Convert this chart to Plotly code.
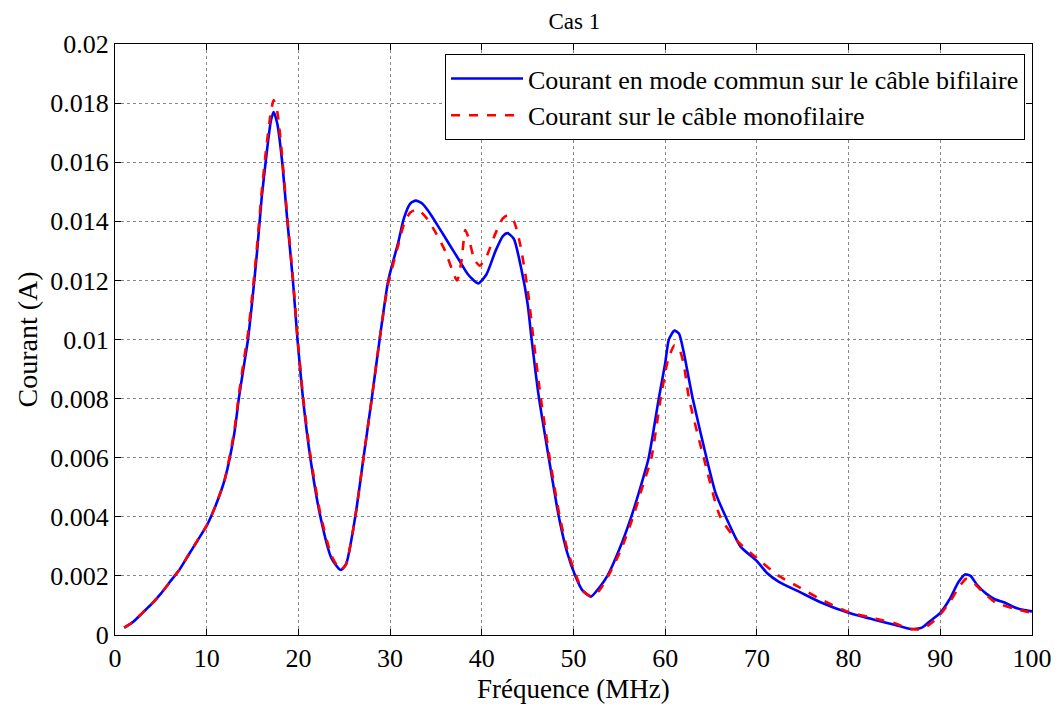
import plotly.graph_objects as go

# Blue: Courant en mode commun sur le câble bifilaire
freq_bi = [1.0, 2, 3, 4, 5, 6, 7, 8, 9, 10, 11, 12, 13, 13.5, 14, 14.5, 15, 15.5, 16, 16.5, 17, 17.3, 17.7,
           18.2, 18.8, 19.4, 19.9, 20.5, 21.3, 22.4, 23.6, 24.6, 25.2, 26.2, 27.1, 28.0, 28.9, 29.8, 30.9,
           31.5, 32.2, 32.8, 33.5, 34.5, 35.5, 36.5, 37.5, 38.5, 39.6, 40.5, 41.5, 42.3, 42.8, 43.5, 44.3,
           45.0, 45.4, 46.2, 47.3, 48.4, 49.3, 50.2, 51.0, 51.9, 52.8, 53.7, 55.0, 56.3, 57.3, 58.2, 59.3,
           60.0, 60.4, 61.0, 61.5, 62.0, 62.5, 63.0, 64.5, 65.5, 66.6, 68.2, 70.0, 71.1, 72.4, 74.7, 77,
           80, 83, 85, 86.8, 88, 89, 90, 91, 92, 92.7, 93.3, 94, 95, 96, 97, 98, 99, 100]
cur_bi = [0.00025, 0.00045, 0.00075, 0.00105, 0.0014, 0.0018, 0.0022, 0.0027, 0.0032, 0.0037, 0.0044, 0.0053,
          0.0068, 0.0080, 0.0090, 0.0100, 0.0114, 0.0130, 0.0148, 0.0162, 0.0174, 0.0177, 0.0173,
          0.0161, 0.0140, 0.0120, 0.0100, 0.0080, 0.0060, 0.0040, 0.0026, 0.0022, 0.0024, 0.0040, 0.0060,
          0.0080, 0.0101, 0.0120, 0.0133, 0.0141, 0.0146, 0.0147, 0.0146, 0.0142, 0.0137, 0.0132, 0.0127,
          0.0122, 0.0119, 0.0122, 0.0130, 0.0135, 0.0136, 0.0134, 0.0124, 0.0112, 0.0101, 0.0081, 0.0060,
          0.0040, 0.0028, 0.0020, 0.0015, 0.0013, 0.0016, 0.0020, 0.0029, 0.0040, 0.0050, 0.0060, 0.0080,
          0.0092, 0.0100, 0.0103, 0.0102, 0.0096, 0.0088, 0.0080, 0.0060, 0.0048, 0.0040, 0.0030, 0.0025,
          0.0021, 0.0018, 0.00145, 0.0011, 0.00075, 0.0005, 0.00035, 0.0002, 0.00025, 0.0005, 0.00075,
          0.0012, 0.0018, 0.00205, 0.0020, 0.0017, 0.0014, 0.0012, 0.0011, 0.00095, 0.00085, 0.0008]

# Red: Courant sur le câble monofilaire
freq_mono = [1.0, 2, 3, 4, 5, 6, 7, 8, 9, 10, 11, 12, 13, 13.5, 14, 14.5, 15, 15.5, 16, 16.5, 17, 17.3, 17.7,
             18.2, 18.8, 19.4, 19.9, 20.5, 21.3, 22.4, 23.6, 24.6, 25.2, 26.2, 27.1, 28.0, 28.9, 29.8, 30.9,
             31.5, 32.2, 33.0, 34, 35, 36, 37.3, 37.8, 38.2, 38.6, 39.2, 39.8, 40.5, 41.5, 42.3, 42.8, 43.5,
             44.2, 45.0, 45.6, 46.4, 47.4, 48.5, 49.4, 50.3, 51.0, 52.0, 52.8, 53.8, 55.2, 56.5, 57.5, 58.5,
             59.5, 60.3, 61.0, 61.5, 62.0, 62.6, 64.2, 66.0, 67.8, 70.0, 72.4, 74.7, 77, 80, 83, 85, 86.8,
             88, 89, 90, 91, 92, 92.8, 93.5, 94.5, 96, 98, 100]
cur_mono = [0.00025, 0.00045, 0.00075, 0.00105, 0.0014, 0.0018, 0.0022, 0.0027, 0.0032, 0.0037, 0.0044, 0.0053,
            0.0069, 0.0081, 0.0092, 0.0102, 0.0116, 0.0132, 0.0150, 0.0165, 0.0177, 0.0181, 0.0177,
            0.0163, 0.0141, 0.0121, 0.0101, 0.0081, 0.0061, 0.0041, 0.0027, 0.0022, 0.0024, 0.0040, 0.0060,
            0.0080, 0.0101, 0.0119, 0.0132, 0.0139, 0.0143, 0.0144, 0.0141, 0.0136, 0.0130, 0.0120, 0.0127,
            0.0137, 0.0134, 0.0127, 0.0125, 0.0128, 0.0136, 0.0141, 0.0142, 0.0140, 0.0132, 0.0117, 0.0101,
            0.0081, 0.0060, 0.0040, 0.0028, 0.0020, 0.0015, 0.0013, 0.0015, 0.0020, 0.0029, 0.0040, 0.0050,
            0.0060, 0.0080, 0.0093, 0.0098, 0.0097, 0.0092, 0.0080, 0.0060, 0.0040, 0.0032, 0.0026, 0.0020,
            0.0016, 0.0012, 0.00078, 0.00055, 0.0004, 0.0002, 0.0002, 0.0004, 0.0007, 0.0011, 0.0016, 0.0019,
            0.0018, 0.0015, 0.0011, 0.0009, 0.00075]

x_ticks = [0, 10, 20, 30, 40, 50, 60, 70, 80, 90, 100]
y_ticks = [0, 0.002, 0.004, 0.006, 0.008, 0.01, 0.012, 0.014, 0.016, 0.018, 0.02]
y_ticklabels = ["0", "0.002", "0.004", "0.006", "0.008", "0.01", "0.012", "0.014", "0.016", "0.018", "0.02"]

FONT = "Liberation Serif"

fig = go.Figure()
fig.add_trace(go.Scatter(x=freq_bi, y=cur_bi, mode="lines",
                         name="Courant en mode commun sur le câble bifilaire",
                         line=dict(color="#0000ff", width=2.6, shape="spline", smoothing=0.6)))
fig.add_trace(go.Scatter(x=freq_mono, y=cur_mono, mode="lines",
                         name="Courant sur le câble monofilaire",
                         line=dict(color="#ff0000", width=2.6, dash="dash", shape="spline", smoothing=0.6)))

axis_common = dict(showline=True, linecolor="black", linewidth=1.2, mirror="ticks",
                   ticks="inside", ticklen=6, tickcolor="black",
                   showgrid=True, gridcolor="#888888", griddash="dot", gridwidth=1,
                   zeroline=False, ticklabeloverflow="allow", automargin=False,
                   tickfont=dict(family=FONT, size=26, color="black"))

# The page body has an 8px default margin; the figure is offset by it.
fig.update_layout(
    width=1043, height=698,
    paper_bgcolor="white", plot_bgcolor="white",
    margin=dict(l=107, r=19, t=36, b=71),
    font=dict(family=FONT, color="black"),
    title=dict(text="Cas 1", x=0.543, xanchor="center", yref="container", y=0.9925, yanchor="top",
               pad=dict(t=0, b=0), font=dict(family=FONT, size=23, color="black")),
    xaxis=dict(range=[0, 100], tickvals=x_ticks, **axis_common),
    yaxis=dict(range=[0, 0.02], tickvals=y_ticks, ticktext=y_ticklabels,
               title=dict(text="Courant (A)", font=dict(family=FONT, size=28, color="black"), standoff=4),
               **axis_common),
    legend=dict(x=0.9924, y=0.983, xanchor="right", yanchor="top",
                bgcolor="white", bordercolor="black", borderwidth=1,
                font=dict(family=FONT, size=26, color="black"),
                itemwidth=72, tracegroupgap=0),
    showlegend=True,
)
fig.add_annotation(text="Fréquence (MHz)", xref="paper", yref="paper", x=0.5, y=0,
                   xanchor="center", yanchor="top", yshift=-37, showarrow=False,
                   font=dict(family=FONT, size=27, color="black"))

fig.write_html("out.html")
